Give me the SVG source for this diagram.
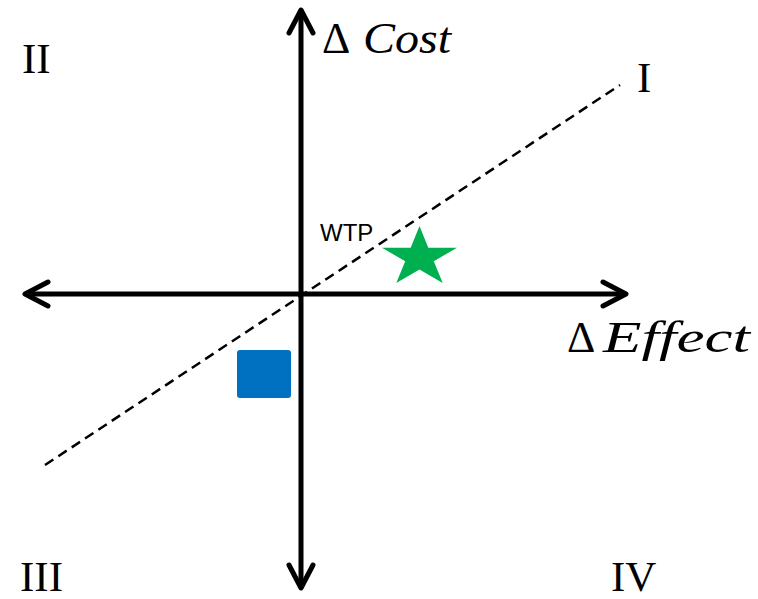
<svg xmlns="http://www.w3.org/2000/svg" width="758" height="599" viewBox="0 0 758 599">
<style>
.axis{stroke:#000;stroke-width:5;fill:none}
.math{font-family:"Liberation Serif","DejaVu Serif",serif;font-size:44px;fill:#000}
.it{font-style:italic}
.num{font-family:"Liberation Serif","DejaVu Serif",serif;font-size:43px;fill:#000}
.lbl{font-family:"Liberation Sans",Arial,sans-serif;font-size:24px;fill:#000}
</style>
<defs>
<marker id="arr" viewBox="-30 -16 36 32" markerWidth="36" markerHeight="32" refX="0" refY="0" orient="auto-start-reverse" markerUnits="userSpaceOnUse">
<path d="M-23,-12 L0,0 L-23,12" fill="none" stroke="#000" stroke-width="5" stroke-linecap="round" stroke-linejoin="round"/>
</marker>
</defs>
<rect width="758" height="599" fill="#fff"/>
<g id="connectors">
<line id="wtp-line" x1="45" y1="465" x2="620" y2="85" stroke="#000" stroke-width="2.5" stroke-dasharray="10,6"/>
<line id="x-axis" class="axis" x1="25" y1="294" x2="626" y2="294" marker-start="url(#arr)" marker-end="url(#arr)"/>
<line id="y-axis" class="axis" x1="301" y1="10" x2="301" y2="588" marker-start="url(#arr)" marker-end="url(#arr)"/>
</g>
<g id="label-cost">
<text class="math" x="322" y="53">Δ</text>
<text class="math it" x="363" y="53" textLength="88" lengthAdjust="spacingAndGlyphs">Cost</text>
</g>
<g id="label-effect">
<text class="math" x="567" y="352">Δ</text>
<text class="math it" x="603" y="352" textLength="147" lengthAdjust="spacingAndGlyphs">Effect</text>
</g>
<g id="quadrant-II"><text class="num" x="22" y="73">II</text></g>
<g id="quadrant-I"><text class="num" x="637" y="92">I</text></g>
<g id="quadrant-III"><text class="num" x="20" y="591">III</text></g>
<g id="quadrant-IV"><text class="num" x="611" y="591">IV</text></g>
<g id="wtp-label"><text class="lbl" x="320" y="241">WTP</text></g>
<g id="star">
<polygon fill="#00B050" points="419.5,226 428.3,247.8 457,247.8 433.8,261.2 442.7,283 419.5,269.5 396.3,283 405.2,261.2 382,247.8 410.7,247.8"/>
</g>
<g id="square">
<rect x="237" y="350" width="54" height="48" rx="3" fill="#0070C0"/>
</g>
</svg>
